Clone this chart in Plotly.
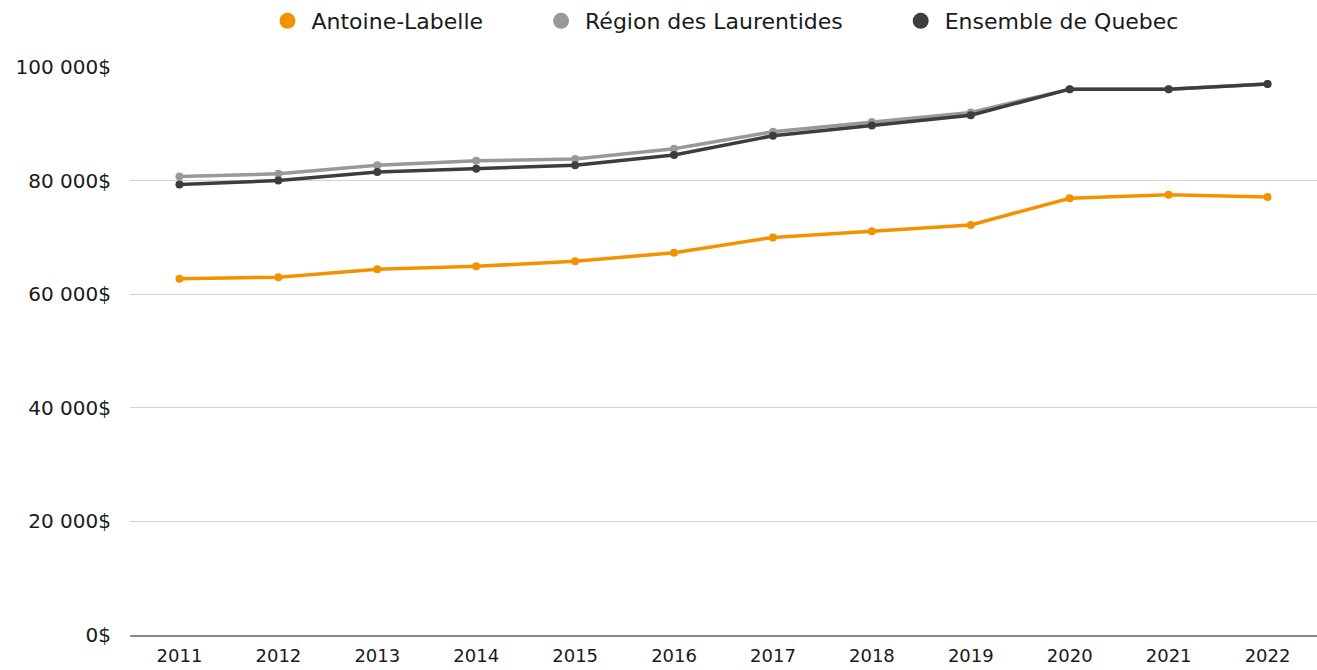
import plotly.graph_objects as go

years = ["2011", "2012", "2013", "2014", "2015", "2016", "2017", "2018", "2019", "2020", "2021", "2022"]
antoine_labelle = [62700, 63000, 64400, 64900, 65800, 67300, 70000, 71100, 72200, 76900, 77500, 77100]
region_laurentides = [80700, 81200, 82700, 83500, 83800, 85600, 88600, 90300, 92000, 96100, 96100, 97000]
ensemble_quebec = [79300, 80000, 81500, 82100, 82700, 84500, 87900, 89700, 91500, 96100, 96100, 97000]

series_names = ["Antoine-Labelle", "Région des Laurentides", "Ensemble de Quebec"]
colors = ["#F39200", "#9B9895", "#3D3D3D"]
tick_vals = [0, 20000, 40000, 60000, 80000, 100000]
tick_text = ["0$", "20 000$", "40 000$", "60 000$", "80 000$", "100 000$"]

FONT = "DejaVu Sans"
PAD = "\u00a0" * 7
fig = go.Figure()
for name, vals, col in zip(series_names, [antoine_labelle, region_laurentides, ensemble_quebec], colors):
    fig.add_trace(go.Scatter(x=years, y=vals, mode="lines+markers", name=name,
                             line=dict(color=col, width=3.5), marker=dict(color=col, size=8),
                             showlegend=False, hoverinfo="x+y+name"))
for i, (name, col) in enumerate(zip(series_names, colors)):
    label = name + (PAD if i < len(series_names) - 1 else "")
    fig.add_trace(go.Scatter(x=[None], y=[None], mode="markers", name=label,
                             marker=dict(color=col, size=20), showlegend=True))

fig.update_layout(
    width=1317, height=670,
    paper_bgcolor="white", plot_bgcolor="white",
    margin=dict(l=130, r=0, t=67, b=35),
    font=dict(family=FONT, size=18, color="#1a1a1a"),
    legend=dict(orientation="h", x=0.5, xanchor="center", y=1.0, yanchor="top",
                yref="container", font=dict(size=22, family=FONT), itemsizing="trace",
                itemwidth=38, tracegroupgap=0),
    xaxis=dict(type="category", range=[-0.5, 11.5], showgrid=False, showline=True,
               linecolor="#888888", linewidth=1.5, ticks="", tickfont=dict(size=18), ticklabelstandoff=4),
    yaxis=dict(range=[0, 100000], tickvals=tick_vals, ticktext=tick_text, showgrid=True,
               gridcolor="#d3d3d3", gridwidth=1, zeroline=False, showline=False,
               ticks="", tickfont=dict(size=20), ticklabelstandoff=18),
)
fig.write_html("out.html", config={"displayModeBar": False},
               post_script="document.body.style.margin='0';document.body.style.overflow='hidden';")
